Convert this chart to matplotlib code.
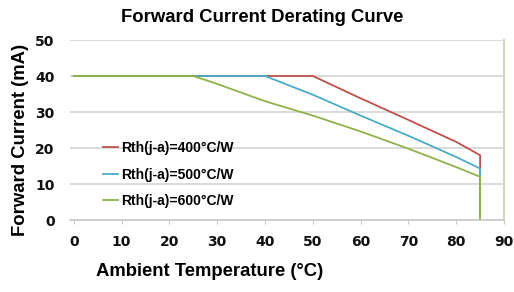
import matplotlib
matplotlib.use("Agg")
import matplotlib.pyplot as plt

title = "Forward Current Derating Curve"
xlabel = "Ambient Temperature (°C)"
ylabel = "Forward Current (mA)"

labels = ["Rth(j-a)=400°C/W", "Rth(j-a)=500°C/W", "Rth(j-a)=600°C/W"]
colors = ["#c0504d", "#4bacc6", "#8fb34a"]

x400 = [0, 50, 60, 70, 80, 85, 85]
y400 = [40, 40, 33.8, 27.8, 21.7, 18, 0]
x500 = [0, 40, 50, 60, 70, 80, 85, 85]
y500 = [40, 40, 34.8, 29.0, 23.4, 17.5, 14.3, 0]
x600 = [0, 25, 30, 40, 50, 60, 70, 80, 85, 85]
y600 = [40, 40, 37.8, 33.0, 29.0, 24.6, 19.8, 14.7, 12, 0]

xticks = [0, 10, 20, 30, 40, 50, 60, 70, 80, 90]
yticks = [0, 10, 20, 30, 40, 50]

fig = plt.figure(figsize=(5.14, 2.92), dpi=100)
ax = fig.add_axes([70/514, 1-220/292, (504-70)/514, 180/292])

for xs, ys, c, l in zip([x400, x500, x600], [y400, y500, y600], colors, labels):
    ax.plot(xs, ys, color=c, lw=1.3, label=l, solid_joinstyle="miter")

ax.set_xlim(-0.8, 90)
ax.set_ylim(0, 50)
ax.set_xticks(xticks)
ax.set_yticks(yticks)
ax.yaxis.grid(True, color="#d4d4d4", lw=1.2)
ax.set_axisbelow(True)
for s in ["left", "top"]:
    ax.spines[s].set_visible(False)
ax.spines["bottom"].set_color("#c8c8c8")
ax.spines["bottom"].set_linewidth(1.2)
ax.spines["right"].set_color("#d6d6bc")
ax.spines["right"].set_linewidth(1.5)

ax.tick_params(axis="y", length=0, pad=11)
ax.tick_params(axis="x", length=3, color="#c8c8c8", pad=8)
for t in ax.get_xticklabels() + ax.get_yticklabels():
    t.set_fontfamily(["Liberation Sans Narrow", "DejaVu Sans"])
    t.set_fontweight("bold")
    t.set_fontsize(10)
    t.set_color("#111111")

lab = dict(family=["Liberation Sans", "DejaVu Sans"], weight="bold", size=13.3)
fig.text(262/514, 1-18/292, title, ha="center", va="center", fontsize=13.3,
         family=["Liberation Sans", "DejaVu Sans"], weight="bold")
fig.text(210/514, 1-272/292, xlabel, ha="center", va="center", **lab)
fig.text(21/514, 1-140/292, ylabel, ha="center", va="center", rotation=90, **lab)

leg = ax.legend(loc="upper left", bbox_to_anchor=(103/514, 1-141/292),
                bbox_transform=fig.transFigure, frameon=False,
                handlelength=1.1, handletextpad=0.2, labelspacing=0.9,
                borderaxespad=0, borderpad=0,
                prop=dict(family=["Liberation Sans", "DejaVu Sans"], weight="bold", size=10))

fig.savefig("out.png", dpi=100)
